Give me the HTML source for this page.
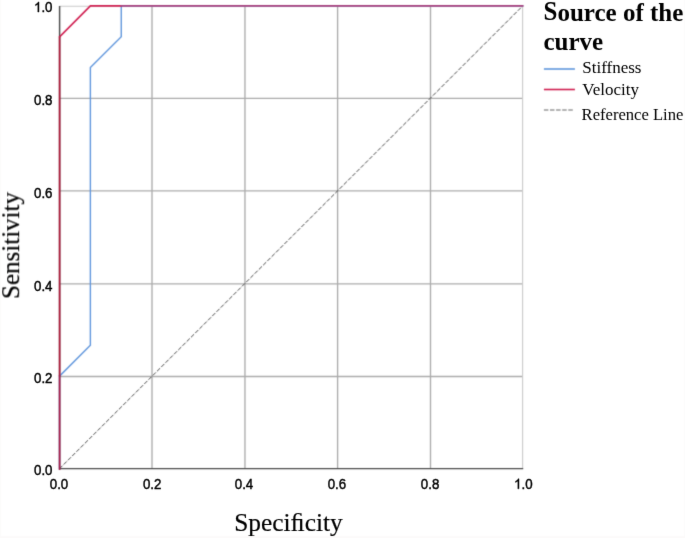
<!DOCTYPE html>
<html>
<head>
<meta charset="utf-8">
<style>
html,body{margin:0;padding:0;background:#fff;}
body{width:685px;height:538px;overflow:hidden;position:relative;}
svg{position:absolute;left:0;top:0;display:block;}
</style>
</head>
<body>
<svg width="685" height="538" viewBox="0 0 685 538">
<defs><filter id="b" x="0" y="0" width="685" height="538" filterUnits="userSpaceOnUse" color-interpolation-filters="sRGB"><feConvolveMatrix order="5" kernelMatrix="0.00000 0.00013 0.00070 0.00013 0.00000 0.00013 0.01910 0.09973 0.01910 0.00013 0.00070 0.09973 0.52080 0.09973 0.00070 0.00013 0.01910 0.09973 0.01910 0.00013 0.00000 0.00013 0.00070 0.00013 0.00000" divisor="1" edgeMode="duplicate"/></filter><filter id="t" x="0" y="0" width="685" height="538" filterUnits="userSpaceOnUse" color-interpolation-filters="sRGB"><feConvolveMatrix order="5" kernelMatrix="0.00000 0.00000 0.00004 0.00000 0.00000 0.00000 0.00524 0.06191 0.00524 0.00000 0.00004 0.06191 0.73124 0.06191 0.00004 0.00000 0.00524 0.06191 0.00524 0.00000 0.00000 0.00000 0.00004 0.00000 0.00000" divisor="1" edgeMode="duplicate"/></filter></defs>
<g filter="url(#b)">
<rect x="0" y="0" width="685" height="538" fill="#fff"/>
<rect x="0" y="0" width="1" height="538" fill="#fcfbfa"/><rect x="684" y="0" width="1" height="538" fill="#fcfbfb"/><rect x="0" y="536" width="685" height="2" fill="#fcfafa"/>
<g stroke="#ababab" stroke-width="1.35" fill="none">
<line x1="152" y1="5.9" x2="152" y2="468.6"/>
<line x1="244.95" y1="5.9" x2="244.95" y2="468.6"/>
<line x1="337.6" y1="5.9" x2="337.6" y2="468.6"/>
<line x1="430.5" y1="5.9" x2="430.5" y2="468.6"/>
<line x1="59.6" y1="98.4" x2="522.6" y2="98.4"/>
<line x1="59.6" y1="190.9" x2="522.6" y2="190.9"/>
<line x1="59.6" y1="283.9" x2="522.6" y2="283.9"/>
<line x1="59.6" y1="376.5" x2="522.6" y2="376.5"/>
</g>
<line x1="59.6" y1="6.2" x2="522.6" y2="6.2" stroke="#cacaca" stroke-width="1.1"/>
<line x1="522.6" y1="5.9" x2="522.6" y2="468.6" stroke="#cacaca" stroke-width="1.1"/>
<g stroke="#4a4a4a" stroke-width="1.45" fill="none">
<line x1="59.6" y1="6" x2="59.6" y2="469.2"/>
<line x1="59" y1="468.6" x2="523.2" y2="468.6"/>
</g>
<line x1="59.5" y1="468.7" x2="522.7" y2="5.9" stroke="#4c4c4c" stroke-width="1.0" stroke-dasharray="4.3 1.7" stroke-dashoffset="0.1"/>
<polyline fill="none" stroke-linecap="square" stroke="#6096dc" stroke-width="1.4" points="59.5,468.7 59.5,376.14 90.38,345.29 90.38,67.61 121.26,36.75 121.26,5.9 522.7,5.9"/>
<polyline fill="none" stroke-linecap="square" stroke-linejoin="miter" stroke="#d01e50" stroke-width="1.6" points="59.6,36.75 90.38,5.9 121.26,5.9"/>
<line stroke-linecap="square" x1="121.26" y1="5.9" x2="522.7" y2="5.9" stroke="#a8407c" stroke-width="1.6"/>
<line x1="59.6" y1="36.75" x2="59.6" y2="376.14" stroke="#ac1838" stroke-width="1.7"/>
<line stroke-linecap="square" x1="59.6" y1="376.14" x2="59.6" y2="469.1" stroke="#a81a48" stroke-width="1.7"/>
<line x1="543.9" y1="69" x2="574.9" y2="69" stroke="#6096dc" stroke-width="1.6"/>
<line x1="543.9" y1="89.5" x2="574.9" y2="89.5" stroke="#d01e50" stroke-width="1.6"/>
<line x1="543.9" y1="110" x2="574" y2="110" stroke="#999999" stroke-width="1.6" stroke-dasharray="4.5 1.6"/>
</g>
<g filter="url(#t)">
<g font-family="Liberation Sans, sans-serif" font-size="14" fill="#000000" stroke="#000000" stroke-width="0.45">
<g transform="translate(34.03,12) scale(0.95,1)"><path d="M763 0H583V1147Q518 1085 412 1023Q307 961 223 930V1104Q374 1175 487 1276Q600 1377 647 1472H763Z" stroke-width="65.83" transform="scale(0.006836,-0.006836)"/><text x="7.79" y="0">.0</text></g>
<g transform="translate(34.03,104.6) scale(0.95,1)"><text x="0" y="0">0.8</text></g>
<g transform="translate(34.03,197.75) scale(0.95,1)"><text x="0" y="0">0.6</text></g>
<g transform="translate(34.03,290.8) scale(0.95,1)"><text x="0" y="0">0.4</text></g>
<g transform="translate(34.03,382.5) scale(0.95,1)"><text x="0" y="0">0.2</text></g>
<g transform="translate(34.03,475.3) scale(0.95,1)"><text x="0" y="0">0.0</text></g>
<g transform="translate(49.76,488.8) scale(0.95,1)"><text x="0" y="0">0.0</text></g>
<g transform="translate(142.91,488.8) scale(0.95,1)"><text x="0" y="0">0.2</text></g>
<g transform="translate(234.76,488.8) scale(0.95,1)"><text x="0" y="0">0.4</text></g>
<g transform="translate(327.66,488.8) scale(0.95,1)"><text x="0" y="0">0.6</text></g>
<g transform="translate(420.86,488.8) scale(0.95,1)"><text x="0" y="0">0.8</text></g>
<g transform="translate(514.06,488.8) scale(0.95,1)"><path d="M763 0H583V1147Q518 1085 412 1023Q307 961 223 930V1104Q374 1175 487 1276Q600 1377 647 1472H763Z" stroke-width="65.83" transform="scale(0.006836,-0.006836)"/><text x="7.79" y="0">.0</text></g>
</g>
<g font-family="Liberation Serif, serif" fill="#000">
<text x="288.5" y="531.2" font-size="25.4" text-anchor="middle" stroke="#000" stroke-width="0.2">Speci&#xFB01;city</text>
<text transform="translate(19.2,245.5) rotate(-90)" font-size="25" text-anchor="middle" stroke="#000" stroke-width="0.2">Sensitivity</text>
<g transform="translate(543.5,20.4) scale(1,1.1)"><text x="0" y="0" font-size="25" font-weight="bold">S</text></g>
<text x="557.4" y="20.7" font-size="25" font-weight="bold">ource of the</text>
<text x="543.5" y="50.3" font-size="25" font-weight="bold">curve</text>
<text x="582.3" y="73.1" font-size="17">Stiffness</text>
<text x="582.3" y="94.8" font-size="17">Velocity</text>
<text x="581.6" y="119.9" font-size="16.6">Reference Line</text>
</g>
</g>
</svg>
</body>
</html>
